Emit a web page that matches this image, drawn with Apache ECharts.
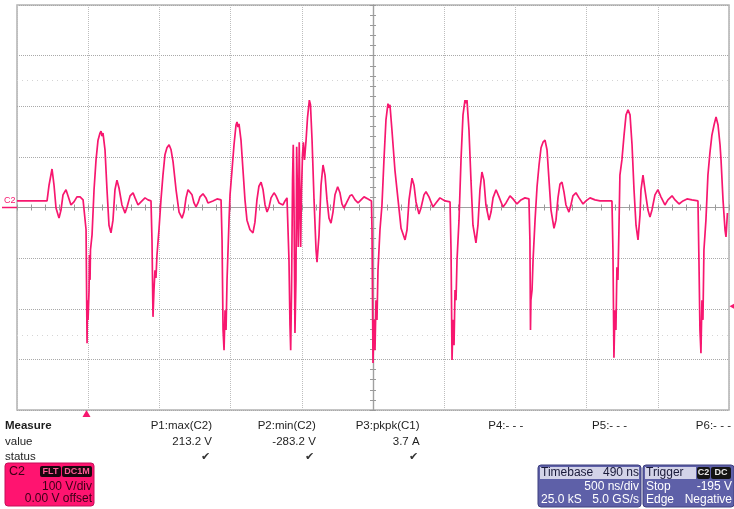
<!DOCTYPE html>
<html>
<head>
<meta charset="utf-8">
<script src="https://cdn.jsdelivr.net/npm/echarts@6/dist/echarts.min.js"></script>
<style>
html,body{margin:0;padding:0;background:#fff;}
#chart{width:734px;height:509px;}
</style>
</head>
<body>
<div id="chart"></div>
<script>
// Time (ns, trigger at 0) and C2 voltage (V)
const timeNs = [
-2500,-2289,-2275,-2254,-2240,-2226,-2205,-2191,-2177,-2156,-2142,-2121,-2100,-2079,-2057,-2036,-2022,
-2015,-2008,-2005,-2001,-1994,-1991,-1987,-1984,-1973,-1959,-1945,-1931,-1917,-1910,-1903,-1896,-1882,-1868,-1854,-1840,-1826,-1812,-1798,-1784,-1763,-1741,-1727,-1706,-1685,-1671,-1650,-1629,-1601,-1580,-1559,
-1552,-1545,-1538,-1531,-1524,-1517,-1503,-1489,-1475,-1461,-1447,-1432,-1418,-1404,-1383,-1362,-1341,-1327,-1313,-1299,-1285,-1271,-1257,-1243,-1229,-1215,-1194,-1173,-1159,-1145,-1124,-1095,-1067,
-1060,-1053,-1046,-1039,-1032,-1025,-1018,-1011,-1004,-990,-976,-962,-955,-948,-941,-927,-913,-899,-885,-864,-843,-829,-815,-801,-786,-772,-758,-744,-730,-716,-695,-681,-660,-632,-618,-604,-597,
-590,-583,-578,-572,-565,-560,-555,-548,-541,-536,-530,-525,-518,-513,-508,-502,-495,-489,-481,-470,-460,-447,-439,-428,-414,-400,-393,-379,-365,-351,-337,-323,-309,-295,-281,-267,-248,-232,-218,-204,-183,-162,-147,-126,-105,-84,-63,-35,-11,
-7,0,7,14,21,28,35,42,49,63,77,91,105,112,119,133,154,176,197,225,239,253,274,288,302,323,337,358,372,393,421,442,470,506,541,
548,555,562,569,576,583,590,604,618,632,646,653,660,674,688,702,723,737,751,765,779,793,815,829,843,864,885,913,934,962,983,1011,1039,1067,1095,
1102,1106,1109,1117,1124,1138,1152,1166,1180,1194,1208,1222,1236,1250,1271,1285,1299,1313,1327,1341,1355,1376,1390,1404,1425,1447,1475,1496,1524,1559,1594,1636,1678,
1685,1692,1699,1706,1713,1720,1727,1734,1748,1763,1777,1791,1805,1819,1833,1847,1861,1875,1882,1896,1910,1931,1945,1959,1980,2001,2022,2050,2071,2100,2121,2149,2177,2205,2240,2282,
2289,2296,2303,2310,2317,2324,2338,2352,2366,2380,2395,2409,2423,2437,2444,2458,2472,2479,2489
];
const voltsV = [
13,13,44,76,44,-1,-21,-5,25,35,23,5,11,21,21,15,13,
-44,-268,-183,-222,-163,-94,-143,-84,-54,35,94,133,147,151,141,147,114,35,-35,-50,-25,35,54,39,5,-11,1,23,29,19,5,11,19,15,13,
-64,-216,-163,-124,-139,-94,-44,15,64,104,118,124,114,90,35,-9,-21,-9,19,35,37,25,9,1,9,21,27,19,9,7,13,17,15,
-64,-242,-282,-203,-242,-143,-84,-25,25,74,124,163,169,159,165,133,74,15,-25,-44,-50,-29,15,42,50,35,5,-9,1,19,29,23,9,5,13,19,17,
-104,-232,-282,-163,54,124,15,-248,-143,120,15,-78,129,15,-78,35,104,129,94,133,177,212,203,133,15,-84,-108,-54,44,84,64,15,-21,-31,-9,25,41,29,7,-1,11,23,25,15,9,15,21,17,13,
-44,-307,-222,-282,-183,-222,-124,-84,-44,5,94,173,205,197,203,153,74,15,-41,-64,-44,15,58,44,11,-13,-1,25,31,21,1,9,19,13,11,
-84,-301,-222,-272,-163,-183,-104,-25,94,183,212,206,212,153,54,-35,-70,-35,35,70,54,5,-25,-9,19,35,21,1,9,23,17,7,15,19,17,
-64,-242,-183,-163,-104,-25,41,84,118,129,133,114,54,-5,-41,-25,19,46,50,31,5,-9,5,23,29,19,7,13,19,15,13,13,13,
-84,-297,-203,-242,-118,-143,-44,64,94,143,183,193,183,124,35,-35,-64,-15,35,64,35,-5,-19,-5,25,35,21,5,15,23,15,7,13,17,15,13,
-104,-242,-288,-183,-222,-84,-25,64,108,143,163,179,163,124,94,15,-44,-58,-11
];
const xRange = [-2500, 2500];   // 10 div x 500 ns/div
const xStep = 500;
const yRange = [-400, 400];     // 8 div x 100 V/div
const yStep = 100;
const trigLevel = -195;
const faintLevels = [252, -252];

const measureNames = ['P1:max(C2)', 'P2:min(C2)', 'P3:pkpk(C1)', 'P4:- - -', 'P5:- - -', 'P6:- - -'];
const measureValues = ['213.2 V', '-283.2 V', '3.7 A', '', '', ''];
const measureOk = [true, true, true, false, false, false];

const PINK = '#f7176f';
const FONT = '"Liberation Sans", Arial, sans-serif';
const data = timeNs.map((t, i) => [t, voltsV[i]]);

const chart = echarts.init(document.getElementById('chart'), null, {renderer: 'canvas'});

const g = [];
function txt(x, y, s, opt) {
  opt = opt || {};
  g.push({type: 'text', x: x, y: y, silent: true, z: 10,
    style: {text: s, fill: opt.fill || '#1e1e1e', font: (opt.weight || 'normal') + ' ' + (opt.size || 11) + 'px ' + FONT,
      textAlign: opt.align || 'left', textVerticalAlign: 'middle'}});
}
function rect(x, y, w, h, fill, stroke, r) {
  g.push({type: 'rect', shape: {x: x, y: y, width: w, height: h, r: r || 0}, silent: true, z: 9,
    style: {fill: fill, stroke: stroke || null, lineWidth: stroke ? 1 : 0}});
}

// Measure table
txt(5, 426, 'Measure', {weight: 'bold', size: 11.5});
txt(5, 442, 'value', {size: 11.5});
txt(5, 457, 'status', {size: 11.5});
measureNames.forEach((n, i) => {
  const xr = 212 + i * 103.8;
  txt(xr, 426, n, {align: 'right', size: 11.5});
  if (measureValues[i]) txt(xr, 442, measureValues[i], {align: 'right', size: 11.5});
  if (measureOk[i]) txt(xr - 2, 457, '\u2714', {align: 'right', size: 11, fill: '#333'});
});

// C2 channel box
rect(5, 463, 89, 43, '#ff1470', '#c50f58', 3);
txt(9, 472, 'C2', {size: 12.5, fill: '#3a0016'});
rect(40, 466, 21, 11, '#1b070e', null, 2);
txt(50.5, 471.5, 'FLT', {align: 'center', size: 9, weight: 'bold', fill: '#ff5a95'});
rect(62, 466, 30, 11, '#1b070e', null, 2);
txt(77, 471.5, 'DC1M', {align: 'center', size: 9, weight: 'bold', fill: '#ff5a95'});
txt(92, 487, '100 V/div', {align: 'right', size: 12, fill: '#3a0016'});
txt(92, 499, '0.00 V offset', {align: 'right', size: 12, fill: '#3a0016'});

// Timebase box
rect(538, 465, 103, 42, '#5e60a8', '#3c3e7e', 3);
rect(540, 467, 99, 12, '#d3d3e8');
txt(541, 473, 'Timebase', {size: 12, fill: '#1a1a3a'});
txt(639, 473, '490 ns', {align: 'right', size: 12, fill: '#1a1a3a'});
txt(639, 487, '500 ns/div', {align: 'right', size: 12, fill: '#ffffff'});
txt(541, 500, '25.0 kS', {size: 12, fill: '#ffffff'});
txt(639, 500, '5.0 GS/s', {align: 'right', size: 12, fill: '#ffffff'});

// Trigger box
rect(643, 465, 91, 42, '#5e60a8', '#3c3e7e', 3);
rect(645, 467, 51, 12, '#d3d3e8');
txt(646, 473, 'Trigger', {size: 12, fill: '#1a1a3a'});
rect(697, 467, 13, 12, '#141414', null, 2);
txt(703.5, 473, 'C2', {align: 'center', size: 9, weight: 'bold', fill: '#e8e8e8'});
rect(711, 467, 20, 12, '#141414', null, 2);
txt(721, 473, 'DC', {align: 'center', size: 9, weight: 'bold', fill: '#e8e8e8'});
txt(646, 487, 'Stop', {size: 12, fill: '#ffffff'});
txt(732, 487, '-195 V', {align: 'right', size: 12, fill: '#ffffff'});
txt(646, 500, 'Edge', {size: 12, fill: '#ffffff'});
txt(732, 500, 'Negative', {align: 'right', size: 12, fill: '#ffffff'});

// C2 ground marker & trigger-position marker
txt(4, 201, 'C2', {size: 9, fill: PINK});
g.push({type: 'line', shape: {x1: 2, y1: 207.5, x2: 17, y2: 207.5}, silent: true, z: 10, style: {stroke: PINK, lineWidth: 1.5}});
g.push({type: 'polygon', shape: {points: [[82.5, 417], [86.5, 410], [90.5, 417]]}, silent: true, z: 10, style: {fill: PINK}});

const grid = {left: 17, top: 5, width: 712, height: 405, show: true, borderColor: '#b3b3b3', borderWidth: 1.5, backgroundColor: '#fff'};
function xAx(pos, split) {
  return {type: 'value', min: xRange[0], max: xRange[1], interval: xStep, position: pos,
    axisLine: {show: true, onZero: true, lineStyle: {color: '#a0a0a0', width: 1.2}},
    axisTick: {show: true, length: 3, lineStyle: {color: '#9a9a9a'}},
    minorTick: {show: true, splitNumber: 5, length: 3, lineStyle: {color: '#9a9a9a'}},
    axisLabel: {show: false},
    splitLine: {show: split, lineStyle: {color: '#bdbdbd', type: [1, 1], width: 1}}};
}
function yAx(pos, split) {
  return {type: 'value', min: yRange[0], max: yRange[1], interval: yStep, position: pos,
    axisLine: {show: true, onZero: true, lineStyle: {color: '#a0a0a0', width: 1.2}},
    axisTick: {show: true, length: 3, lineStyle: {color: '#9a9a9a'}},
    minorTick: {show: true, splitNumber: 5, length: 3, lineStyle: {color: '#9a9a9a'}},
    axisLabel: {show: false},
    splitLine: {show: split, lineStyle: {color: '#a9a9a9', type: [1, 1], width: 1}}};
}

chart.setOption({
  animation: false,
  backgroundColor: '#ffffff',
  grid: grid,
  xAxis: [xAx('bottom', true), xAx('top', false)],
  yAxis: [yAx('left', true), yAx('right', false)],
  series: [{
    type: 'line', xAxisIndex: 0, yAxisIndex: 0, data: data, showSymbol: false, symbol: 'none',
    lineStyle: {color: PINK, width: 1.7}, z: 5,
    markLine: {silent: true, symbol: 'none', label: {show: false},
      lineStyle: {color: '#d4d4d4', type: [1, 4], width: 1},
      data: faintLevels.map(v => ({yAxis: v}))},
    markPoint: {silent: true, data: [{coord: [xRange[1], trigLevel], symbol: 'triangle', symbolSize: [8, 7], symbolRotate: 90, symbolOffset: [4, 0], itemStyle: {color: PINK}, label: {show: false}}]}
  }],
  graphic: g
});
</script>
</body>
</html>
